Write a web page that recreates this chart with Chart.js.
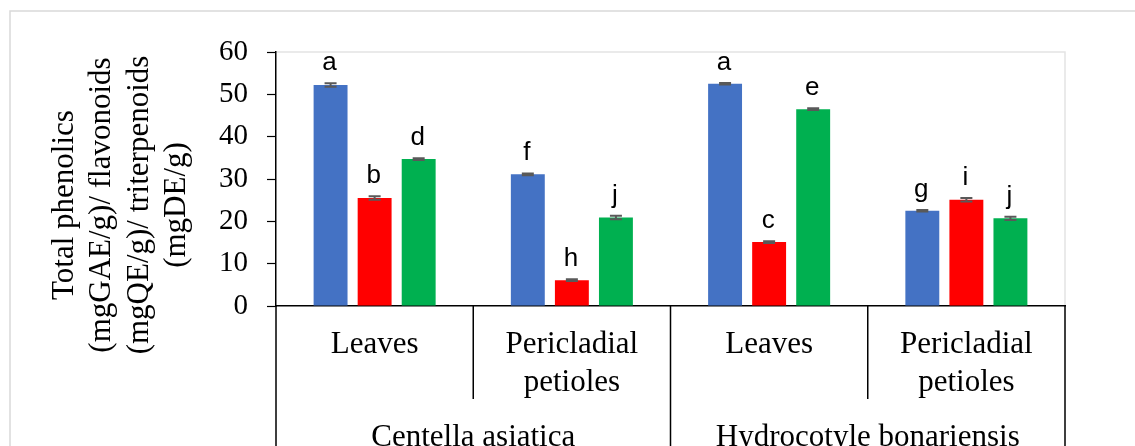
<!DOCTYPE html>
<html lang="en">
<head>
<meta charset="UTF-8">
<title>Total phenolics / flavonoids / triterpenoids</title>
<script src="https://cdn.jsdelivr.net/npm/chart.js"></script>
<style>
  body { margin: 0; background: #fff; }
  #wrap { width: 1135px; height: 446px; }
</style>
</head>
<body>
<div id="wrap"><canvas id="phenolChart" width="1135" height="446"></canvas></div>
<script>
// categories (sub label lines) and the species they belong to
const partLabels = [['Leaves'], ['Pericladial', 'petioles'], ['Leaves'], ['Pericladial', 'petioles']];
const speciesLabels = ['Centella asiatica', 'Hydrocotyle bonariensis'];

// values
const phenolics = [52.2, 31.1, 52.5, 22.5];
const flavonoids = [25.5, 6.1, 15.1, 25.1];
const triterpenoids = [34.7, 20.9, 46.5, 20.7];

const phenolicsErr = [0.4, 0.2, 0.2, 0.2];
const flavonoidsErr = [0.4, 0.2, 0.2, 0.4];
const triterpenoidsErr = [0.2, 0.4, 0.2, 0.4];

const phenolicsLetters = ['a', 'f', 'a', 'g'];
const flavonoidsLetters = ['b', 'h', 'c', 'i'];
const triterpenoidsLetters = ['d', 'j', 'e', 'j'];

const yTicks = [0, 10, 20, 30, 40, 50, 60];
const yTitle = ['Total phenolics', '(mgGAE/g)/ flavonoids', '(mgQE/g)/ triterpenoids', '(mgDE/g)'];

const serif = '"Liberation Serif", "Times New Roman", serif';

// frame, plot border, y title, error bars, letters and the two-level category table
const decorPlugin = {
    id: 'decor',
    beforeDraw(chart) {
        const ctx = chart.ctx;
        const a = chart.chartArea;
        ctx.save();
        ctx.fillStyle = '#fff';
        ctx.fillRect(0, 0, chart.width, chart.height);
        ctx.strokeStyle = '#d9d9d9';
        ctx.lineWidth = 1.5;
        ctx.beginPath();
        ctx.moveTo(10, chart.height + 5);
        ctx.lineTo(10, 11);
        ctx.lineTo(chart.width + 5, 11);
        ctx.stroke();
        ctx.strokeStyle = '#e4e4e4';
        ctx.beginPath();
        ctx.moveTo(a.left, a.top);
        ctx.lineTo(a.right, a.top);
        ctx.lineTo(a.right, a.bottom);
        ctx.stroke();

        // y axis title
        ctx.translate(121, 205);
        ctx.rotate(-Math.PI / 2);
        ctx.fillStyle = '#000';
        ctx.font = '31px ' + serif;
        ctx.textAlign = 'center';
        ctx.textBaseline = 'middle';
        yTitle.forEach((line, i) => ctx.fillText(line, 0, (i - 1.5) * 37.5));
        ctx.restore();
    },
    afterDatasetsDraw(chart) {
        const ctx = chart.ctx;
        const y = chart.scales.y;
        ctx.save();
        chart.data.datasets.forEach((ds, di) => {
            const meta = chart.getDatasetMeta(di);
            meta.data.forEach((bar, i) => {
                const v = ds.data[i];
                const e = ds.errors[i];
                const yHi = y.getPixelForValue(v + e);
                const yLo = y.getPixelForValue(v - e);
                ctx.strokeStyle = '#595959';
                ctx.lineWidth = 2;
                ctx.beginPath();
                ctx.moveTo(bar.x, yHi);
                ctx.lineTo(bar.x, yLo);
                ctx.moveTo(bar.x - 6, yHi);
                ctx.lineTo(bar.x + 6, yHi);
                ctx.moveTo(bar.x - 6, yLo);
                ctx.lineTo(bar.x + 6, yLo);
                ctx.stroke();

                ctx.fillStyle = '#000';
                ctx.font = '26px "Liberation Sans", Arial, sans-serif';
                ctx.textAlign = 'center';
                ctx.textBaseline = 'alphabetic';
                ctx.fillText(ds.letters[i], bar.x - 1, yHi - 13);
            });
        });
        ctx.restore();
    },
    afterDraw(chart) {
        const ctx = chart.ctx;
        const a = chart.chartArea;
        const x = chart.scales.x;
        const n = partLabels.length;
        const w = (a.right - a.left) / n;
        ctx.save();
        ctx.strokeStyle = '#000';
        ctx.lineWidth = 1.5;
        ctx.beginPath();
        for (let i = 0; i <= n; i++) {
            const px = a.left + i * w;
            ctx.moveTo(px, a.bottom);
            ctx.lineTo(px, i % 2 === 0 ? chart.height + 2 : a.bottom + 93);
        }
        ctx.stroke();

        ctx.fillStyle = '#000';
        ctx.font = '31px ' + serif;
        ctx.textAlign = 'center';
        ctx.textBaseline = 'alphabetic';
        partLabels.forEach((lines, i) => {
            const cx = x.getPixelForValue(i);
            lines.forEach((t, j) => ctx.fillText(t, cx, a.bottom + 47 + j * 38));
        });
        speciesLabels.forEach((t, i) => {
            const cx = a.left + (2 * i + 1) * w;
            ctx.fillText(t, cx, a.bottom + 140);
        });
        ctx.restore();
    }
};

const ctx = document.getElementById('phenolChart').getContext('2d');
new Chart(ctx, {
    type: 'bar',
    data: {
        labels: partLabels.map(l => l.join(' ')),
        datasets: [{
            label: 'Total phenolics',
            data: phenolics,
            errors: phenolicsErr,
            letters: phenolicsLetters,
            backgroundColor: '#4472C4'
        }, {
            label: 'Flavonoids',
            data: flavonoids,
            errors: flavonoidsErr,
            letters: flavonoidsLetters,
            backgroundColor: '#FF0000'
        }, {
            label: 'Triterpenoids',
            data: triterpenoids,
            errors: triterpenoidsErr,
            letters: triterpenoidsLetters,
            backgroundColor: '#00B050'
        }]
    },
    options: {
        responsive: false,
        animation: false,
        categoryPercentage: 0.67,
        barPercentage: 0.77,
        layout: { padding: { top: 52, right: 70, left: 0, bottom: 0 } },
        plugins: {
            legend: { display: false },
            tooltip: { enabled: false }
        },
        scales: {
            x: {
                grid: { display: false },
                border: { display: true, color: '#000', width: 1.5 },
                ticks: { display: false },
                afterFit: s => { s.height = 140; }
            },
            y: {
                min: 0,
                max: 60,
                afterBuildTicks: s => { s.ticks = yTicks.map(v => ({ value: v })); },
                grid: { drawOnChartArea: false, tickLength: 9, color: '#000', tickWidth: 1.2 },
                border: { color: '#000', width: 1.5 },
                ticks: { color: '#000', padding: 19, font: { family: serif, size: 29 } },
                afterFit: s => { s.width = 276; }
            }
        }
    },
    plugins: [decorPlugin]
});
</script>
</body>
</html>
